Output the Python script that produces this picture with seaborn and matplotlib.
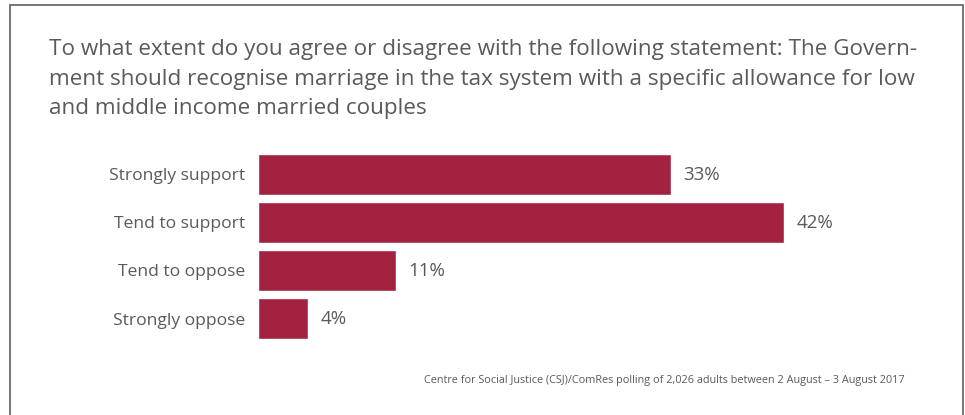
import matplotlib
matplotlib.use("Agg")
import matplotlib.pyplot as plt
import seaborn as sns
import pandas as pd
from matplotlib.patches import Rectangle

categories = ["Strongly support", "Tend to support", "Tend to oppose", "Strongly oppose"]
values = [33, 42, 11, 4]
value_labels = ["33%", "42%", "11%", "4%"]

title_lines = [
    "To what extent do you agree or disagree with the following statement: The Govern-",
    "ment should recognise marriage in the tax system with a specific allowance for low",
    "and middle income married couples",
]
source = "Centre for Social Justice (CSJ)/ComRes polling of 2,026 adults between 2 August \u2013 3 August 2017"

sns.set_theme(style="white")
plt.rcParams["font.family"] = ["Open Sans", "DejaVu Sans"]

W, H = 965, 415
fig = plt.figure(figsize=(W / 100, H / 100), dpi=100)
fig.patch.set_facecolor("white")

text_col = "#5a5a5a"
bar_col = "#a22240"

# axes placement in pixels
left_px, right_px = 258, 258 + 626
top_px, bottom_px = 150.5, 342.5
ax = fig.add_axes([left_px / W, (H - bottom_px) / H,
                   (right_px - left_px) / W, (bottom_px - top_px) / H])

df = pd.DataFrame({"category": categories, "value": values})
sns.barplot(data=df, x="value", y="category", orient="h", color=bar_col,
            saturation=1, width=41 / 48, ax=ax)
ax.set_xlim(0, 50)
ax.set_ylim(3.5, -0.5)
ax.set_xlabel("")
ax.set_ylabel("")
ax.set_xticks([])
for s in ax.spines.values():
    s.set_visible(False)
ax.tick_params(axis="y", length=0, pad=9.5, labelsize=12.6, labelcolor=text_col)
ax.set_facecolor("none")

for i, (v, lab) in enumerate(zip(values, value_labels)):
    ax.annotate(lab, xy=(v, i), xytext=(9, 0), textcoords="offset points",
                va="center", ha="left", fontsize=13.5, color=text_col)

# title
for k, line in enumerate(title_lines):
    fig.text(49 / W, 1 - (50 + 29 * k) / H, line, ha="left", va="center",
             fontsize=16.2, color=text_col)

fig.text(905 / W, 1 - 380 / H, source, ha="right", va="center",
         fontsize=7.8, color=text_col)

# frame around the panel
fig.patches.append(Rectangle((10 / W, -0.05), (963 - 10) / W, 1 - 5 / H + 0.05,
                             transform=fig.transFigure, fill=False,
                             edgecolor="#5f5f5f", linewidth=1.2))

fig.savefig("out.png", dpi=100, facecolor="white")
